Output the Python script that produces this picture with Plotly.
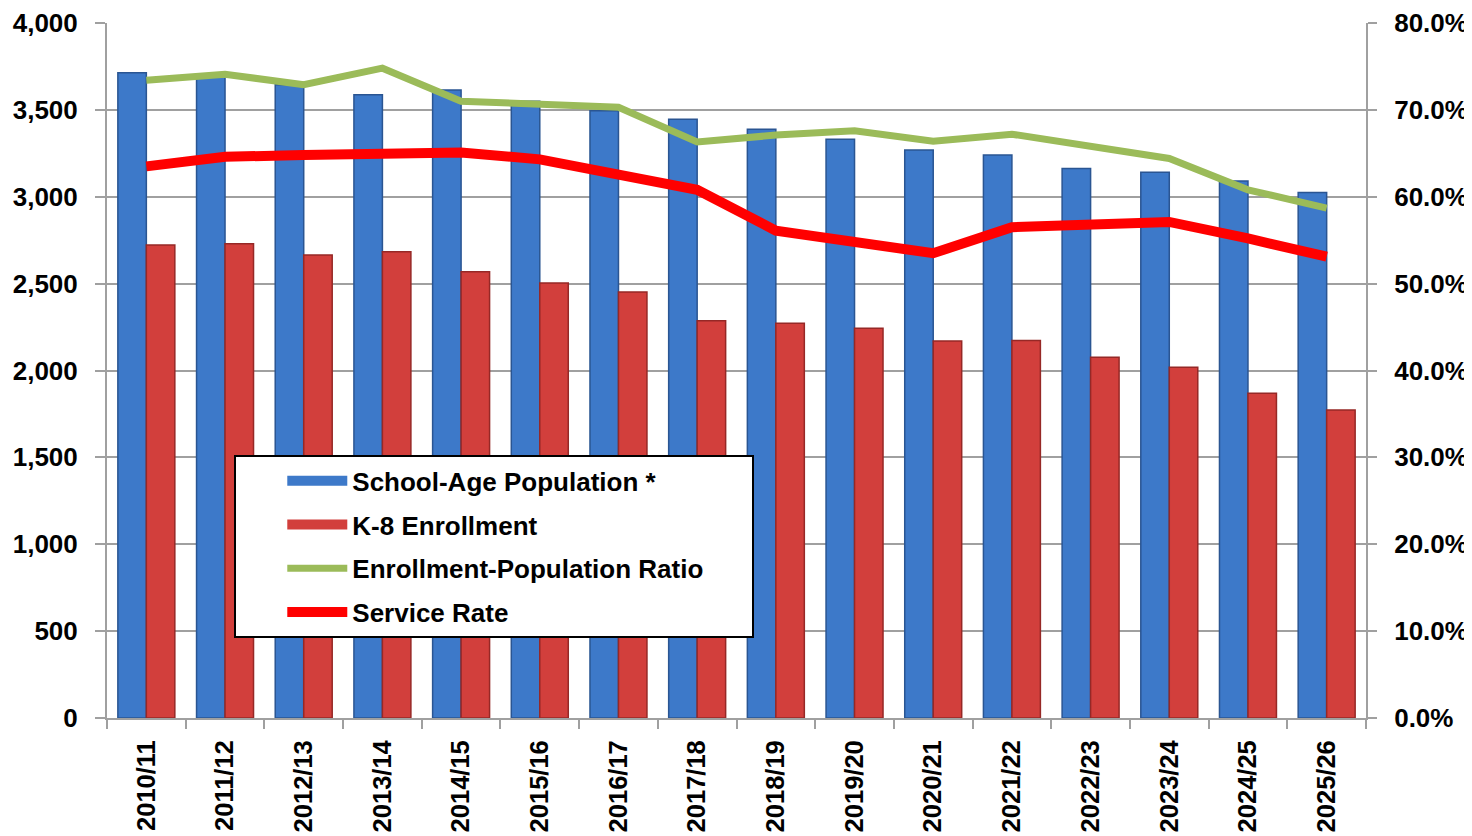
import plotly.graph_objects as go

categories = ["2010/11", "2011/12", "2012/13", "2013/14", "2014/15", "2015/16",
              "2016/17", "2017/18", "2018/19", "2019/20", "2020/21", "2021/22",
              "2022/23", "2023/24", "2024/25", "2025/26"]
school_age_pop = [3713, 3690, 3645, 3587, 3614, 3550, 3495, 3446, 3388, 3331,
                  3269, 3240, 3162, 3141, 3091, 3024]
k8_enrollment = [2722, 2730, 2665, 2684, 2569, 2503, 2452, 2287, 2272, 2243,
                 2170, 2172, 2076, 2019, 1869, 1773]
enroll_pop_ratio = [0.734, 0.741, 0.729, 0.748, 0.710, 0.707, 0.703, 0.663,
                    0.671, 0.676, 0.664, 0.672, 0.658, 0.644, 0.608, 0.587]
service_rate = [0.635, 0.646, 0.648, 0.649, 0.651, 0.643, 0.625, 0.608,
                0.561, 0.548, 0.535, 0.565, 0.569, 0.571, 0.552, 0.531]
left_ticks = [0, 500, 1000, 1500, 2000, 2500, 3000, 3500, 4000]
right_ticks = [0, 0.1, 0.2, 0.3, 0.4, 0.5, 0.6, 0.7, 0.8]

FONT = "Liberation Sans, Arial, sans-serif"
GRID = "#a0a0a0"
BLUE = "#3d79c9"
RED = "#d23f3c"
NB = "\u00a0"

fig = go.Figure()
fig.add_trace(go.Bar(
    x=categories, y=school_age_pop, name="School-Age Population *",
    marker=dict(color=BLUE, line=dict(color="#2a5592", width=1.5)),
    showlegend=False, yaxis="y"))
fig.add_trace(go.Bar(
    x=categories, y=k8_enrollment, name="K-8 Enrollment",
    marker=dict(color=RED, line=dict(color="#962826", width=1.5)),
    showlegend=False, yaxis="y"))
fig.add_trace(go.Scatter(
    x=categories, y=enroll_pop_ratio, name="Enrollment-Population Ratio" + NB * 6,
    mode="lines", line=dict(color="#9bbb59", width=7),
    legendgroup="c", legendrank=3, yaxis="y2"))
fig.add_trace(go.Scatter(
    x=categories, y=service_rate, name="Service Rate",
    mode="lines", line=dict(color="#ff0000", width=10),
    legendgroup="d", legendrank=4, yaxis="y2"))
# legend-only entries so the bar series get wide rectangular legend keys
fig.add_trace(go.Scatter(
    x=[None], y=[None], name="School-Age Population *", mode="lines",
    line=dict(color=BLUE, width=13), legendgroup="a", legendrank=1,
    hoverinfo="skip", yaxis="y"))
fig.add_trace(go.Scatter(
    x=[None], y=[None], name="K-8 Enrollment", mode="lines",
    line=dict(color=RED, width=13), legendgroup="b", legendrank=2,
    hoverinfo="skip", yaxis="y"))

fig.update_layout(
    width=1464, height=828,
    margin=dict(l=99, r=106, t=15, b=118, autoexpand=False),
    paper_bgcolor="white", plot_bgcolor="white",
    font=dict(family=FONT, size=26, color="black"),
    barmode="group", bargap=0.276, bargroupgap=0,
    showlegend=True,
    legend=dict(
        x=0.101, y=0.378, xanchor="left", yanchor="top",
        bgcolor="white", bordercolor="black", borderwidth=2,
        font=dict(family=FONT, size=26, color="black", weight="bold"),
        tracegroupgap=7, itemwidth=60,
        title=dict(text=NB * 5, side="left",
                   font=dict(family=FONT, size=26, color="black")),
    ),
    xaxis=dict(
        type="category", tickangle=-90, showgrid=False, automargin=False,
        showline=True, linecolor=GRID, linewidth=2,
        ticks="outside", tickson="boundaries", ticklen=9, tickcolor=GRID, tickwidth=2,
        tickfont=dict(family=FONT, size=25.5, color="black", weight="bold"),
        ticklabelstandoff=10,
    ),
    yaxis=dict(
        range=[0, 4000], tickvals=left_ticks, tickformat=",d", automargin=False,
        showgrid=True, gridcolor=GRID, gridwidth=2,
        showline=True, linecolor=GRID, linewidth=2,
        ticks="outside", ticklen=10, tickcolor=GRID, tickwidth=2,
        tickfont=dict(family=FONT, size=26, color="black", weight="bold"),
        ticklabelstandoff=12, zeroline=False,
    ),
    yaxis2=dict(
        range=[0, 0.8], tickvals=right_ticks, tickformat=".1%", automargin=False,
        overlaying="y", side="right", showgrid=False,
        showline=True, linecolor=GRID, linewidth=2,
        ticks="outside", ticklen=9, tickcolor=GRID, tickwidth=2,
        tickfont=dict(family=FONT, size=26, color="black", weight="bold"),
        ticklabelstandoff=12, zeroline=False,
    ),
)

fig.write_html("out.html")
